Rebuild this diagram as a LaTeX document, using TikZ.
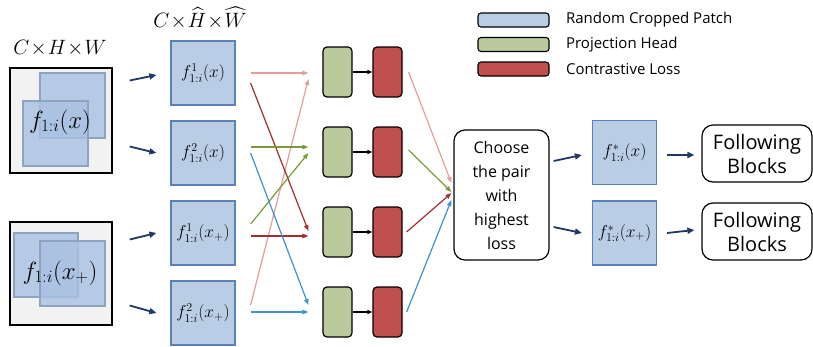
\documentclass[tikz,border=0pt]{standalone}
\usepackage{fontspec}
\usepackage{amsmath}
\usetikzlibrary{arrows.meta}
\newfontfamily\sans{Open Sans}

\definecolor{patchblue}{HTML}{B9CDE5}
\definecolor{patchedge}{HTML}{5A80B5}
\definecolor{cropedge}{HTML}{8EA3C0}
\definecolor{cropblue}{HTML}{A9C1E2}
\definecolor{projgreen}{HTML}{BACA9D}
\definecolor{lossred}{HTML}{C0504D}
\definecolor{navy}{HTML}{1F3864}
\definecolor{pinkarr}{HTML}{E39C9C}
\definecolor{darkred}{HTML}{9E2F2D}
\definecolor{olivearr}{HTML}{7A9A3A}
\definecolor{skyarr}{HTML}{3C93D0}

\tikzset{
  patch/.style={draw=patchedge, fill=patchblue, line width=1.2pt, minimum size=64pt, inner sep=0pt, font=\fontsize{17}{19}\selectfont},
  crop/.style={draw=cropedge, fill=cropblue, fill opacity=0.8, line width=1.3pt},
  image/.style={draw=black, fill=black!5, line width=1.4pt, inner sep=0pt},
  proj/.style={draw=black, fill=projgreen, line width=1.2pt, rounded corners=4pt, minimum width=29pt, minimum height=50pt},
  loss/.style={proj, fill=lossred},
  textbox/.style={draw=black, line width=1.2pt, rounded corners=11pt, align=center, font=\sans\fontsize{16}{24}\selectfont, inner sep=0pt},
  legbox/.style={draw=black, line width=1.1pt, rounded corners=3pt, minimum width=71pt, minimum height=14pt},
  arr/.style={navy, line width=1.8pt, -{Triangle[length=7pt,width=6pt]}},
  carr/.style={line width=1.2pt, -{Triangle[length=6pt,width=4.5pt]}},
}

\begin{document}
\begin{tikzpicture}[x=1pt, y=-1pt]

\useasboundingbox (0,0) rectangle (813,346);

\node [anchor=center] at (60,48) {\fontsize{22}{26}\selectfont $C\!\times\! H\!\times\! W$};
\node [anchor=center] at (200,18) {\fontsize{22}{26}\selectfont $C\!\times\! \widehat{H}\!\times\! \widehat{W}$};

\node [image, minimum width=102pt, minimum height=105pt] (img1) at (61,120.5) {};
\draw [crop] (40,73) rectangle (105,138);
\draw [crop] (23,101) rectangle (88,166);
\node at (60,122) {\fontsize{24}{28}\selectfont $f_{1:i}(x)$};

\node [image, minimum width=102pt, minimum height=103pt] (img2) at (61,273.5) {};
\draw [crop] (14,233) rectangle (78,297);
\draw [crop] (40,241) rectangle (105,306);
\node at (60,273) {\fontsize{24}{28}\selectfont $f_{1:i}(x_{+})$};

\node [patch] (p1) at (203,73) {$f^{1}_{1:i}(x)$};
\node [patch] (p2) at (203,153) {$f^{2}_{1:i}(x)$};
\node [patch] (p3) at (203,233) {$f^{1}_{1:i}(x_{+})$};
\node [patch] (p4) at (203,313) {$f^{2}_{1:i}(x_{+})$};

\draw [arr] ([xshift=17pt,yshift=40pt]img1.east) -- ([xshift=-14pt,yshift=-2pt]p1.west);
\draw [arr] ([xshift=17pt,yshift=-26pt]img1.east) -- ([xshift=-14pt]p2.west);
\draw [arr] ([xshift=17pt,yshift=34pt]img2.east) -- ([xshift=-14pt]p3.west);
\draw [arr] ([xshift=17pt,yshift=-32pt]img2.east) -- ([xshift=-14pt]p4.west);

\foreach \i/\y in {1/72,2/152,3/232,4/312} {
  \node [proj] (g\i) at (337.5,\y) {};
  \node [loss] (l\i) at (387.5,\y) {};
  \draw [line width=1.2pt, -{Triangle[length=5pt,width=4pt]}] (g\i.east) -- (l\i.west);
}

\draw [carr, pinkarr] ([xshift=15pt]p1.east) -- ([xshift=-14pt,yshift=-1pt]g1.west);
\draw [carr, pinkarr] ([xshift=15pt,yshift=8pt]p4.east) -- ([xshift=-14pt,yshift=-7pt]g1.west);
\draw [carr, darkred] ([xshift=15pt,yshift=-10pt]p1.east) -- ([xshift=-14pt,yshift=1pt]g3.west);
\draw [carr, darkred] ([xshift=15pt,yshift=-3pt]p3.east) -- ([xshift=-14pt,yshift=-4pt]g3.west);
\draw [carr, olivearr] ([xshift=15pt,yshift=6pt]p2.east) -- ([xshift=-14pt,yshift=5pt]g2.west);
\draw [carr, olivearr] ([xshift=15pt,yshift=9pt]p3.east) -- ([xshift=-14pt,yshift=-1pt]g2.west);
\draw [carr, skyarr] ([xshift=15pt]p2.east) -- ([xshift=-14pt,yshift=7pt]g4.west);
\draw [carr, skyarr] ([xshift=15pt,yshift=1pt]p4.east) -- ([xshift=-14pt]g4.west);

\node [textbox, minimum width=95pt, minimum height=130pt] (choose) at (501.5,195) {Choose\\the pair\\with\\highest\\loss};

\draw [carr, pinkarr] ([xshift=6pt]l1.east) -- ([xshift=-2pt,yshift=12pt]choose.west);
\draw [carr, olivearr] ([xshift=6pt,yshift=2pt]l2.east) -- ([xshift=-2pt,yshift=3pt]choose.west);
\draw [carr, darkred] ([xshift=4pt]l3.east) -- ([xshift=-2pt,yshift=2pt]choose.west);
\draw [carr, skyarr] ([xshift=4pt]l4.east) -- ([xshift=-2pt,yshift=-5pt]choose.west);

\node [patch] (s1) at (624.5,152.5) {$f^{*}_{1:i}(x)$};
\node [patch] (s2) at (624.5,233) {$f^{*}_{1:i}(x_{+})$};

\draw [arr] ([xshift=4pt,yshift=34pt]choose.east) -- ([xshift=-10pt,yshift=-2.5pt]s1.west);
\draw [arr] ([xshift=4pt,yshift=-32pt]choose.east) -- ([xshift=-10pt]s2.west);

\node [textbox, font=\sans\fontsize{20}{24}\selectfont, minimum width=110pt, minimum height=57pt] (f1) at (757,153.5) {Following\\Blocks};
\node [textbox, font=\sans\fontsize{20}{24}\selectfont, minimum width=110pt, minimum height=57pt] (f2) at (757,231.5) {Following\\Blocks};

\draw [arr] ([xshift=10pt,yshift=-2.5pt]s1.east) -- ([xshift=-7pt,yshift=-1.5pt]f1.west);
\draw [arr] ([xshift=10pt]s2.east) -- ([xshift=-7pt,yshift=1.5pt]f2.west);

\node [legbox, fill=patchblue] (lg1) at (513.5,20) {};
\node [legbox, fill=projgreen] (lg2) at (513.5,44.5) {};
\node [legbox, fill=lossred] (lg3) at (513.5,69) {};
\node [anchor=west, font=\sans\fontsize{15}{18}\selectfont] at ([xshift=13pt]lg1.east) {Random Cropped Patch};
\node [anchor=west, font=\sans\fontsize{15}{18}\selectfont] at ([xshift=13pt]lg2.east) {Projection Head};
\node [anchor=west, font=\sans\fontsize{15}{18}\selectfont] at ([xshift=13pt]lg3.east) {Contrastive Loss};

\end{tikzpicture}
\end{document}
